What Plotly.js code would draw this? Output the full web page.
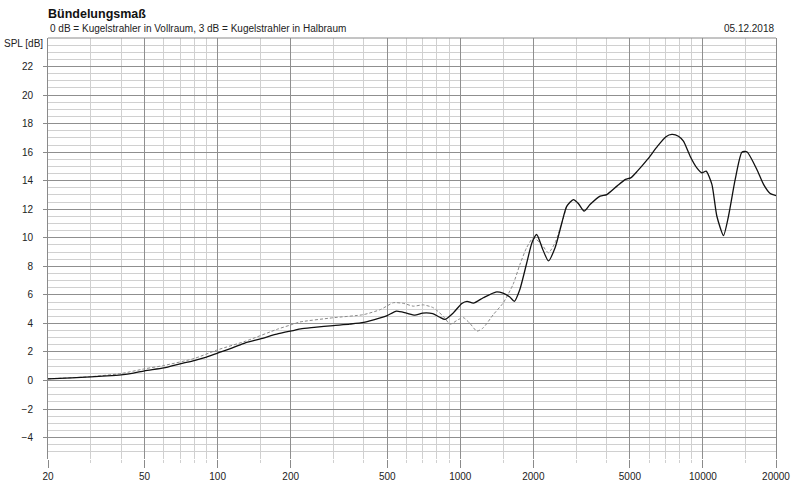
<!DOCTYPE html>
<html>
<head>
<meta charset="utf-8">
<script src="https://cdn.plot.ly/plotly-3.0.1.min.js"></script>
<style>html,body{margin:0;padding:0;background:#fff;}#chart{width:800px;height:489px;}</style>
</head>
<body>
<div id="chart"></div>
<script>
// Frequency axis ticks
const xTickVals = [20, 50, 100, 200, 500, 1000, 2000, 5000, 10000, 20000];
const xTickText = ['20', '50', '100', '200', '500', '1000', '2000', '5000', '10000', '20000'];
const xMinorVals = [30, 40, 60, 70, 80, 90, 150, 300, 400, 600, 700, 800, 900, 1500, 3000, 4000, 6000, 7000, 8000, 9000, 15000];
const yTickVals = [-4, -2, 0, 2, 4, 6, 8, 10, 12, 14, 16, 18, 20, 22];

// Solid curve (Bündelungsmaß)
const solidFreq = [20, 25, 30, 35, 40, 45, 50, 60, 70, 80, 90, 100, 115, 130, 150, 178, 205, 220, 250, 300, 350, 400, 468, 500, 546, 600, 650, 700, 770, 820, 864, 936, 1015, 1066, 1133, 1243, 1400, 1500, 1600, 1670, 1760, 1876, 1974, 2064, 2185, 2308, 2458, 2617, 2745, 2925, 3066, 3237, 3425, 3770, 4018, 4423, 4796, 5036, 5367, 5907, 6501, 7040, 7444, 7925, 8310, 8855, 9437, 9901, 10306, 10885, 11413, 12150, 12740, 13580, 14470, 15170, 16680, 17770, 18930, 20000];
const solidDb = [0.12, 0.18, 0.25, 0.32, 0.40, 0.52, 0.68, 0.88, 1.17, 1.40, 1.64, 1.92, 2.28, 2.64, 2.92, 3.28, 3.50, 3.62, 3.72, 3.85, 3.95, 4.07, 4.39, 4.55, 4.86, 4.72, 4.58, 4.72, 4.68, 4.45, 4.28, 4.74, 5.40, 5.55, 5.42, 5.80, 6.20, 6.12, 5.85, 5.55, 6.38, 8.20, 9.65, 10.23, 9.20, 8.38, 9.30, 11.00, 12.20, 12.68, 12.40, 11.87, 12.33, 12.92, 13.03, 13.62, 14.09, 14.20, 14.67, 15.49, 16.42, 17.08, 17.24, 17.12, 16.77, 15.72, 14.90, 14.55, 14.67, 13.74, 11.51, 10.16, 11.51, 14.09, 16.00, 16.03, 14.79, 13.74, 13.10, 12.96];

// Dashed curve
const dashFreq = [20, 30, 40, 50, 60, 80, 100, 130, 178, 205, 218, 300, 400, 470, 530, 585, 640, 704, 774, 851, 908, 981, 1031, 1096, 1171, 1243, 1368, 1503, 1650, 1761, 1876, 2000, 2166, 2308, 2458, 2617, 2745];
const dashDb = [0.12, 0.27, 0.49, 0.82, 1.05, 1.54, 2.15, 2.75, 3.62, 3.95, 4.10, 4.40, 4.62, 4.98, 5.45, 5.40, 5.21, 5.30, 5.10, 4.50, 3.95, 4.27, 4.40, 4.00, 3.46, 3.69, 4.62, 5.44, 6.73, 8.13, 9.30, 10.00, 9.53, 8.95, 9.65, 11.00, 12.20];

const FONT = 'Liberation Sans, Arial, sans-serif';

const traces = [
  {
    x: dashFreq, y: dashDb, type: 'scatter', mode: 'lines',
    line: {color: '#8a8a8a', width: 1, dash: '3px,2px', shape: 'spline', smoothing: 0.6},
    hoverinfo: 'skip', showlegend: false
  },
  {
    x: solidFreq, y: solidDb, type: 'scatter', mode: 'lines',
    line: {color: '#111111', width: 1.3, shape: 'spline', smoothing: 0.6},
    hoverinfo: 'skip', showlegend: false
  }
];

const layout = {
  width: 800, height: 489,
  margin: {l: 48, r: 24, t: 38, b: 30, pad: 0},
  paper_bgcolor: '#ffffff', plot_bgcolor: '#ffffff',
  font: {family: FONT, size: 10, color: '#222222'},
  showlegend: false,
  title: {
    text: '<b>Bündelungsmaß</b>',
    font: {family: FONT, size: 12.5, color: '#111111'},
    x: 48/800, xanchor: 'left', xref: 'container',
    y: 1 - 14/489, yanchor: 'middle', yref: 'container'
  },
  xaxis: {
    type: 'log',
    range: [Math.log10(20), Math.log10(20000)],
    tickmode: 'array', tickvals: xTickVals, ticktext: xTickText,
    ticks: 'outside', ticklen: 8, tickcolor: '#8a8a8a', tickwidth: 1,
    showgrid: true, gridcolor: '#8f8f8f', gridwidth: 1,
    zeroline: false, showline: false,
    tickfont: {family: FONT, size: 10, color: '#222222'},
    minor: {tickmode: 'array', tickvals: xMinorVals, showgrid: true, gridcolor: '#d0d0d0', gridwidth: 1, ticks: 'outside', ticklen: 3, tickcolor: '#d0d0d0'},
    fixedrange: true
  },
  yaxis: {
    range: [-5.5, 24],
    tickmode: 'array', tickvals: yTickVals,
    ticks: 'outside', ticklen: 4, tickcolor: '#8a8a8a', tickwidth: 1,
    ticklabelstandoff: 8,
    showgrid: true, gridcolor: '#8f8f8f', gridwidth: 1,
    zeroline: false, showline: true, mirror: true, linecolor: '#8a8a8a', linewidth: 1,
    tickfont: {family: FONT, size: 10, color: '#222222'},
    minor: {dtick: 0.5, tick0: 0, showgrid: true, gridcolor: '#d0d0d0', gridwidth: 1},
    fixedrange: true
  },
  shapes: [
    {type: 'line', xref: 'paper', yref: 'paper', x0: 0, x1: 1, y0: 1, y1: 1, line: {color: '#8a8a8a', width: 1}}
  ],
  annotations: [
    {text: '0 dB = Kugelstrahler in Vollraum, 3 dB = Kugelstrahler in Halbraum', xref: 'paper', yref: 'paper', x: 0, y: 1, xanchor: 'left', yanchor: 'middle', yshift: 10, showarrow: false, font: {family: FONT, size: 10, color: '#222222'}},
    {text: '05.12.2018', xref: 'paper', yref: 'paper', x: 1, y: 1, xanchor: 'right', yanchor: 'middle', yshift: 10, showarrow: false, font: {family: FONT, size: 10, color: '#222222'}},
    {text: 'SPL [dB]', xref: 'paper', yref: 'y', x: 0, y: 24, xanchor: 'right', yanchor: 'middle', xshift: -3, yshift: -5, showarrow: false, font: {family: FONT, size: 10, color: '#222222'}}
  ]
};

Plotly.newPlot('chart', traces, layout, {displayModeBar: false, staticPlot: true});
</script>
</body>
</html>
